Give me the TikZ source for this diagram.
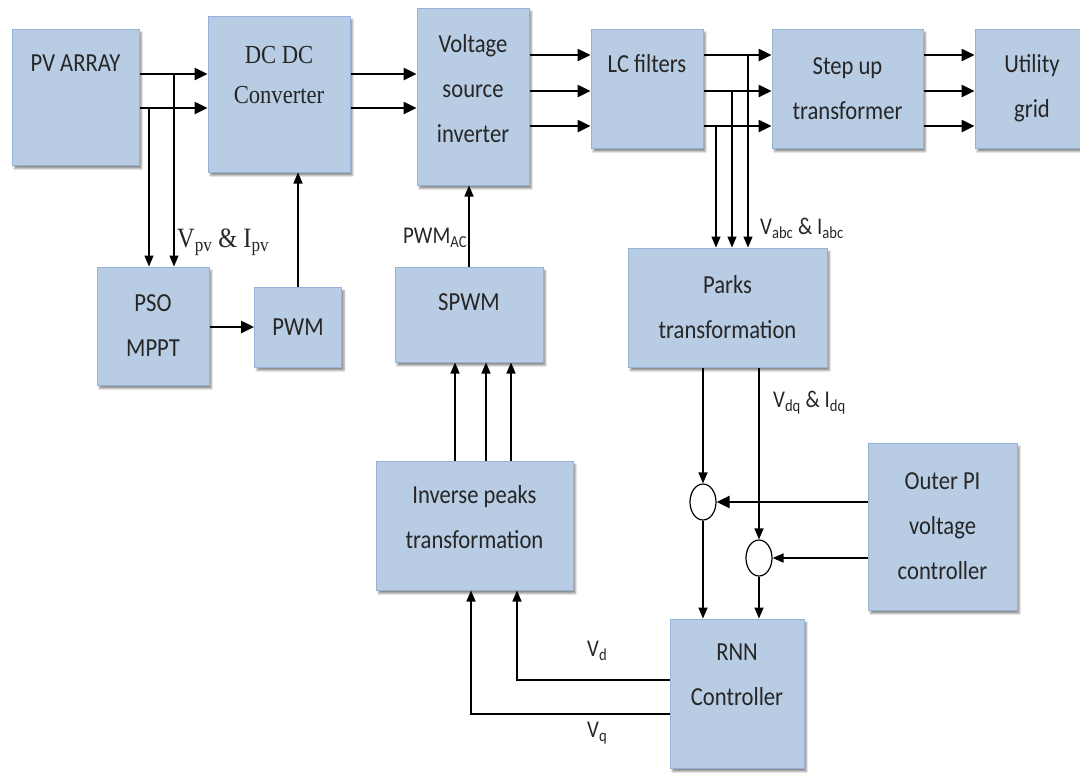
\documentclass[tikz,border=0pt]{standalone}
\usepackage{fontspec}
\setmainfont{Carlito}[FakeStretch=0.87]
\newfontfamily\tnr{Liberation Serif}[FakeStretch=0.87]
\usepackage{tikz}
\usetikzlibrary{positioning,arrows.meta,calc,shapes.geometric,shadows.blur}
\definecolor{cFill}{HTML}{B8CCE4}
\definecolor{cEdge}{HTML}{95B3D7}
\definecolor{cText}{HTML}{262626}
\tikzset{
  box/.style={draw=cEdge,fill=cFill,line width=1pt,inner sep=2pt,align=center,
    text=cText,font=\fontsize{26}{45}\selectfont,
    blur shadow={shadow xshift=2.5pt,shadow yshift=-3.5pt,shadow blur steps=4,shadow opacity=45}},
  txt/.style={align=center,text=cText,font=\fontsize{26}{45}\selectfont,inner sep=0pt},
  lbl/.style={text=cText,font=\fontsize{24}{28}\selectfont,inner sep=0pt,anchor=west},
  sumj/.style={ellipse,draw,fill=white,line width=1.2pt,minimum width=26pt,minimum height=36pt,inner sep=0pt},
  pwr/.style={-{Triangle[length=13pt,width=12pt]},line width=2.5pt},
  sig/.style={-{Triangle[length=11pt,width=9pt]},line width=1.4pt}}

\begin{document}
\begin{tikzpicture}[x=1pt,y=-1pt]
\useasboundingbox (0,0) rectangle (1080,772);
% power path
\node[box,minimum width=127,minimum height=136] (pv) at (75.5,97) {};
\node[txt] at (75.5,63) {PV ARRAY};
\node[box,minimum width=142,minimum height=156] (dcdc) at (279,94) {};
\node[txt,font=\tnr\fontsize{26}{40}\selectfont] at (279,75) {DC DC\\Converter};
\node[box,minimum width=112,minimum height=177] (vsi) at (473,96.5) {};
\node[txt] at (473,89) {Voltage\\source\\inverter};
\node[box,minimum width=112,minimum height=119] (lc) at (647,88.5) {};
\node[txt] at (647,64) {LC filters};
\node[box,minimum width=151,minimum height=119] (step) at (847.5,88.5) {Step up\\transformer};
\node[box,minimum width=114,minimum height=119] (grid) at (1032,88.5) {Utility\\grid};
% control side
\node[box,minimum width=112,minimum height=118] (pso) at (153,326) {PSO\\MPPT};
\node[box,minimum width=87,minimum height=80] (pwm) at (298,327) {PWM};
\node[box,minimum width=148,minimum height=95] (spwm) at (469,314.5) {};
\node[txt] at (469,302) {SPWM};
\node[box,minimum width=199,minimum height=119] (parks) at (727.5,307.5) {Parks\\transformation};
\node[box,minimum width=197,minimum height=129] (inv) at (474.5,525.5) {};
\node[txt] at (474.5,517) {Inverse peaks\\transformation};
\node[box,minimum width=149,minimum height=167] (outer) at (942.5,526.5) {Outer PI\\voltage\\controller};
\node[box,minimum width=134,minimum height=149] (rnn) at (737,693.5) {};
\node[txt] at (737,675) {RNN\\Controller};
\node[sumj] (c1) at (703,502) {};
\node[sumj] (c2) at (759,558) {};
% rows of the main lines
\coordinate (r1) at (0,74);
\coordinate (r2) at (0,108);
\coordinate (p1) at (0,55);
\coordinate (p2) at (0,91);
\coordinate (p3) at (0,126);
\draw[pwr,line width=2.9pt] (pv.east |- r1) -- (dcdc.west |- r1);
\draw[pwr] (pv.east |- r2) -- (dcdc.west |- r2);
\draw[pwr] (dcdc.east |- r1) -- (vsi.west |- r1);
\draw[pwr] (dcdc.east |- r2) -- (vsi.west |- r2);
\foreach \p in {p1,p2,p3} {
  \draw[pwr] (vsi.east |- \p) -- (lc.west |- \p);
  \draw[pwr] (lc.east |- \p) -- (step.west |- \p);
  \draw[pwr] (step.east |- \p) -- (grid.west |- \p);
}
% measurement taps
\coordinate (t1) at (174,74);
\coordinate (t2) at (149,108);
\draw[sig] (t1) -- (t1 |- pso.north);
\draw[sig] (t2) -- (t2 |- pso.north);
\node[lbl,font=\tnr\fontsize{28}{30}\selectfont] at (177,242) {V\textsubscript{pv} \& I\textsubscript{pv}};
\coordinate (u1) at (748,55);
\coordinate (u2) at (732,91);
\coordinate (u3) at (716,126);
\foreach \u in {u1,u2,u3}
  \draw[sig] (\u) -- (\u |- parks.north);
\node[lbl] at (760,228) {V\textsubscript{abc} \& I\textsubscript{abc}};
% modulators
\draw[pwr] (pso.east |- pwm.west) -- (pwm.west);
\draw[sig] (pwm.north) -- (pwm.north |- dcdc.south);
\draw[sig] (spwm.north) -- (spwm.north |- vsi.south);
\node[lbl] at (403,238) {PWM\textsubscript{AC}};
\foreach \dx in {-19.5,11.5,36.5}
  \draw[sig] ([xshift=\dx pt]inv.north) -- ([xshift=\dx pt]inv.north |- spwm.south);
% dq loop
\draw[sig] (parks.south -| c1) -- (c1);
\draw[sig] (parks.south -| c2) -- (c2);
\node[lbl] at (773,403) {V\textsubscript{dq} \& I\textsubscript{dq}};
\draw[pwr,line width=2.2pt] (outer.west |- c1) -- (c1);
\draw[sig,line width=1.7pt] (outer.west |- c2) -- (c2);
\draw[sig] (c1) -- (rnn.north -| c1);
\draw[sig] (c2) -- (rnn.north -| c2);
\draw[sig] ([yshift=13.5pt]rnn.west) -| ([xshift=42.5pt]inv.south);
\draw[sig] ([yshift=-20.5pt]rnn.west) -| ([xshift=-3.5pt]inv.south);
\node[lbl] at (587,651) {V\textsubscript{d}};
\node[lbl] at (587,733) {V\textsubscript{q}};
\end{tikzpicture}
\end{document}
